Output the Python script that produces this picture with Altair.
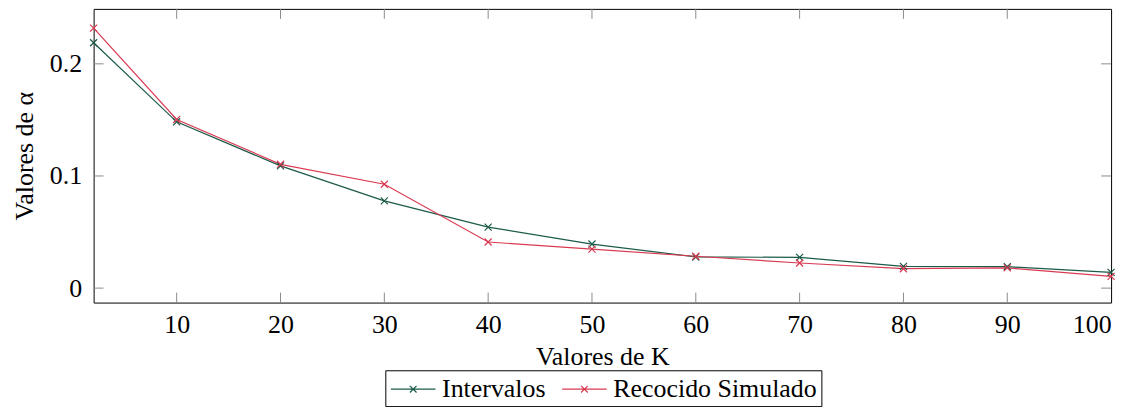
import altair as alt
import pandas as pd

k_values = [2, 10, 20, 30, 40, 50, 60, 70, 80, 90, 100]
intervalos = [0.2188, 0.1483, 0.1090, 0.0778, 0.0544, 0.0393, 0.0278, 0.0274, 0.0194, 0.0191, 0.0140]
recocido = [0.2318, 0.1504, 0.1104, 0.0926, 0.0411, 0.0348, 0.0284, 0.0224, 0.0173, 0.0180, 0.0105]
series_names = ["Intervalos", "Recocido Simulado"]
series_colors = ["#1b5a48", "#d93a52"]
x_ticks = [10, 20, 30, 40, 50, 60, 70, 80, 90, 100]
y_ticks = [0, 0.1, 0.2]

rows = []
for k, a in zip(k_values, intervalos):
    rows.append({"K": k, "alpha": a, "serie": series_names[0]})
for k, a in zip(k_values, recocido):
    rows.append({"K": k, "alpha": a, "serie": series_names[1]})
df = pd.DataFrame(rows)

W, H = 1022, 295
FONT = "Liberation Serif"
FS = 26
TICK = 10

xscale = alt.Scale(domain=[2, 100], nice=False, zero=False)
yscale = alt.Scale(domain=[-0.0129, 0.249], nice=False, zero=False)

cross = "M-1,-1L1,1M-1,1L1,-1"
legend_sym = "M-1.6,0L1.6,0M-0.24,-0.24L0.24,0.24M-0.24,0.24L0.24,-0.24"

lines = alt.Chart(df).mark_line(
    strokeWidth=1.2,
    point=alt.OverlayMarkDef(shape=cross, filled=False, size=50, strokeWidth=1.2),
).encode(
    x=alt.X("K:Q", scale=xscale,
            axis=alt.Axis(values=x_ticks, title="Valores de K", grid=False, domain=False,
                          ticks=False, labelPadding=9, titlePadding=6)),
    y=alt.Y("alpha:Q", scale=yscale,
            axis=alt.Axis(values=y_ticks, format=".1~f", title="Valores de α", grid=False,
                          domain=False, ticks=False, labelPadding=12, titlePadding=12)),
    color=alt.Color("serie:N", scale=alt.Scale(domain=series_names, range=series_colors),
                    title=None,
                    legend=alt.Legend(orient="none", legendX=293, legendY=363,
                                      direction="horizontal", symbolType=legend_sym,
                                      symbolSize=784, symbolStrokeWidth=1.2,
                                      symbolFillColor="transparent", symbolOffset=9,
                                      labelOffset=14, columnPadding=14, padding=4,
                                      labelLimit=400,
                                      strokeColor="black", fillColor="white")),
)

xt = pd.DataFrame({"K": x_ticks[:-1]})
yt = pd.DataFrame({"alpha": y_ticks})
tick_color = "#8a8a8a"
xb = alt.Chart(xt).mark_rule(color=tick_color, strokeWidth=1).encode(
    x=alt.X("K:Q", scale=xscale), y=alt.value(H), y2=alt.value(H - TICK))
xtp = alt.Chart(xt).mark_rule(color=tick_color, strokeWidth=1).encode(
    x=alt.X("K:Q", scale=xscale), y=alt.value(0), y2=alt.value(TICK))
yl = alt.Chart(yt).mark_rule(color=tick_color, strokeWidth=1).encode(
    y=alt.Y("alpha:Q", scale=yscale), x=alt.value(0), x2=alt.value(TICK))
yr = alt.Chart(yt).mark_rule(color=tick_color, strokeWidth=1).encode(
    y=alt.Y("alpha:Q", scale=yscale), x=alt.value(W - TICK), x2=alt.value(W))

chart = alt.layer(xb, xtp, yl, yr, lines).properties(
    width=W, height=H,
    autosize=alt.AutoSizeParams(type="none"),
    padding={"left": 86, "top": 0, "right": 20, "bottom": 104},
).configure_view(stroke="black", strokeWidth=1).configure_axis(
    labelFont=FONT, labelFontSize=FS, labelColor="black",
    titleFont=FONT, titleFontSize=FS, titleColor="black", titleFontWeight="normal",
).configure_legend(labelFont=FONT, labelFontSize=FS, labelColor="black")

chart.save("out.html", embed_options={"renderer": "svg", "actions": False})
